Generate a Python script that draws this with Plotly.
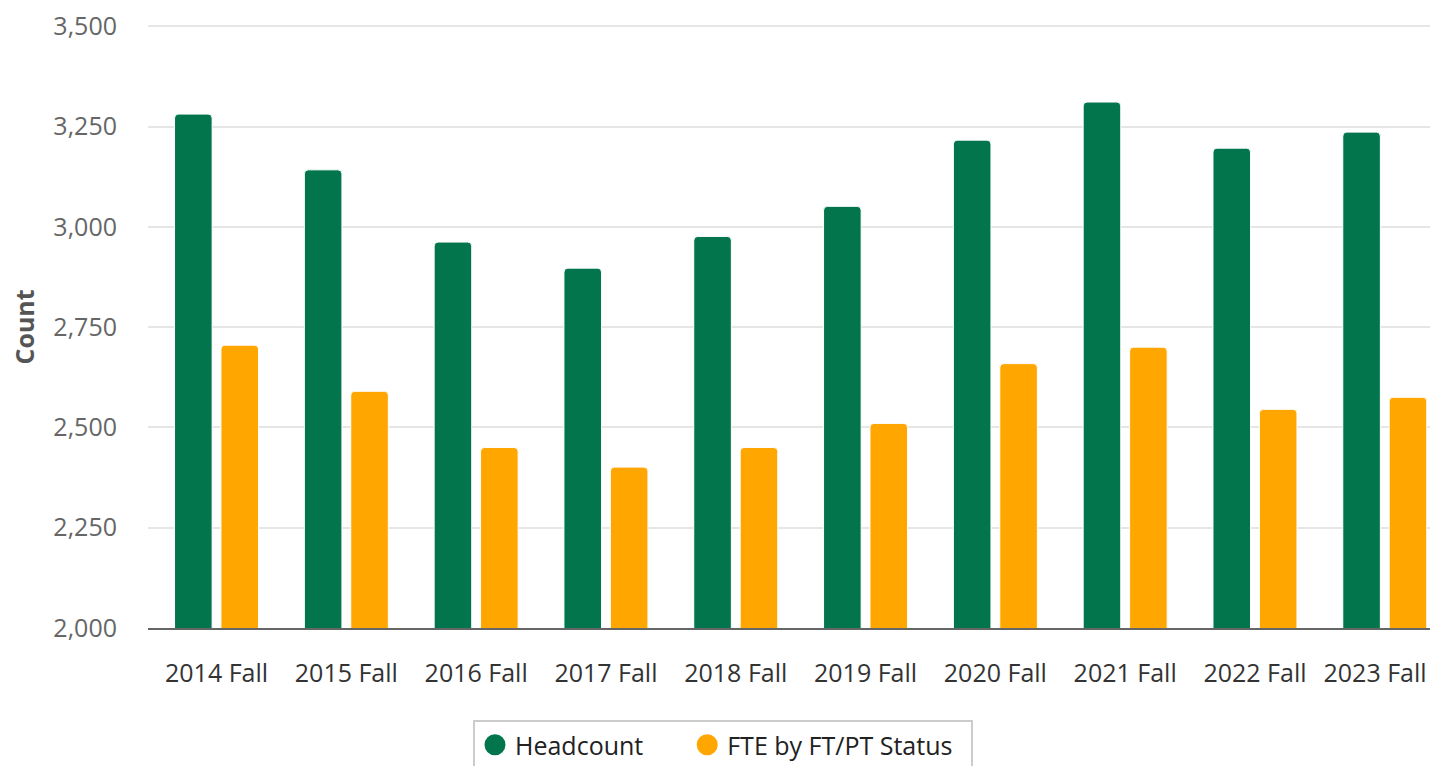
import plotly.graph_objects as go

categories = ["2014 Fall", "2015 Fall", "2016 Fall", "2017 Fall", "2018 Fall",
              "2019 Fall", "2020 Fall", "2021 Fall", "2022 Fall", "2023 Fall"]
headcount = [3281, 3142, 2962, 2897, 2976, 3051, 3216, 3311, 3196, 3236]
fte = [2705, 2590, 2450, 2401, 2450, 2510, 2659, 2700, 2545, 2575]
series_names = ["Headcount", "FTE by FT/PT Status"]
y_ticks = [2000, 2250, 2500, 2750, 3000, 3250, 3500]
y_title = "Count"

GREEN = "#03754D"
ORANGE = "#FFA600"
FONT = "Open Sans"

W, H = 1430, 758
L, T, B = 140, 17, 138
NB = "\u00a0"

# last label is padded so it stays inside the page edge (like the reference)
x_ticktext = categories[:-1] + [categories[-1] + NB * 3]

fig = go.Figure()
fig.add_trace(go.Bar(x=categories, y=headcount, name=series_names[0],
                     marker=dict(color=GREEN, line=dict(color="white", width=1)),
                     showlegend=False))
fig.add_trace(go.Bar(x=categories, y=fte, name=series_names[1],
                     marker=dict(color=ORANGE, line=dict(color="white", width=1)),
                     showlegend=False))
# legend entries with circle symbols (padding spaces only widen the entries)
legend_labels = [series_names[0] + NB * 6, series_names[1] + NB * 2]
for name, col in zip(legend_labels, [GREEN, ORANGE]):
    fig.add_trace(go.Scatter(x=[None], y=[None], mode="markers", name=name,
                             marker=dict(symbol="circle", size=20, color=col,
                                         line=dict(color=col, width=5))))

fig.update_layout(
    width=W, height=H,
    margin=dict(l=L, r=0, t=T, b=B),
    paper_bgcolor="white", plot_bgcolor="white",
    font=dict(family=FONT, size=25, color="#333333"),
    barmode="group", bargap=0.285, bargroupgap=0.19,
    barcornerradius=4,
    showlegend=True,
    legend=dict(orientation="h", xref="container", yref="container",
                x=0.5, xanchor="center", y=1 - 712 / H, yanchor="top",
                bordercolor="#CCCCCC", borderwidth=2, bgcolor="white",
                font=dict(family=FONT, size=25, color="#222222"),
                itemsizing="trace"),
)
fig.update_xaxes(
    type="category", range=[-0.528, 9.41],
    tickmode="array", tickvals=categories, ticktext=x_ticktext,
    showline=True, linecolor="#666666", linewidth=2,
    showgrid=False, ticks="", ticklabelstandoff=22,
    ticklabeloverflow="allow", automargin=False,
    tickfont=dict(family=FONT, size=25, color="#333333"),
)
fig.update_yaxes(
    range=[2000, 3503], tickvals=y_ticks, tickformat=",",
    showgrid=True, gridcolor="#E6E6E6", gridwidth=2,
    zeroline=False, showline=False, ticks="", ticklabelstandoff=30,
    ticklabeloverflow="allow", automargin=False,
    tickfont=dict(family=FONT, size=25, color="#666666"),
)
plot_w = W - L
fig.add_annotation(text="<b>" + y_title + "</b>", xref="paper", yref="paper",
                   x=(15 - L) / plot_w, y=0.5, xanchor="center", yanchor="middle",
                   textangle=-90, showarrow=False,
                   font=dict(family=FONT, size=25, color="#555555"))

fig.write_html("out.html")
